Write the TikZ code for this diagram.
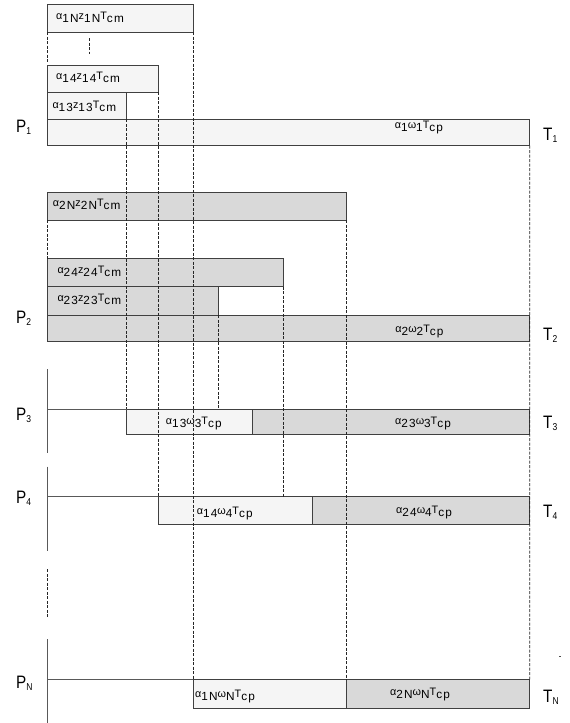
\documentclass[tikz,border=0pt]{standalone}
\usepackage{fontspec}
\setmainfont{Liberation Sans}
\newfontfamily\lf[LetterSpace=10]{Liberation Sans}
\usetikzlibrary{calc}
\newcommand\hb[1]{{\lf\fontsize{10.8}{10.8}\selectfont #1}}
\newcommand\lb[1]{\raisebox{-3.4pt}{\lf\fontsize{11.8}{11.8}\selectfont #1}}
\newcommand\lab[6]{\hb{#1}\lb{#2}\hb{#3}\lb{#4}\hb{#5}\lb{#6}}
\newcommand\biglab[2]{\scalebox{0.85}[1]{\fontsize{18}{18}\selectfont #1}\raisebox{-2pt}{\scalebox{0.85}[1]{\fontsize{10}{10}\selectfont #2}}}
\begin{document}
\begin{tikzpicture}[x=1pt,y=-1pt,
  bx/.style={draw=black!75, line width=0.8pt, inner sep=0pt, outer sep=0pt, anchor=north west},
  lite/.style={bx, fill=black!4},
  dark/.style={bx, fill=black!15},
  dl/.style={dash pattern=on 3pt off 1.5pt, line width=0.6pt, draw=black!85},
  ax/.style={line width=0.8pt, draw=black!65},
  txt/.style={inner sep=0pt, anchor=base west},
  txc/.style={inner sep=0pt, anchor=base},
  big/.style={inner sep=0pt, anchor=base west}]
\useasboundingbox (0,0) rectangle (570,723);
\fill[white] (0,0) rectangle (570,723);
% P1 group
\node[lite, minimum width=145.6pt, minimum height=27.7pt] (A1N) at (47.7,4.3) {};
\node[lite, minimum width=110.6pt, minimum height=27pt] (A14) at (47.7,65) {};
\node[lite, minimum width=79pt, minimum height=27.3pt] (A13) at (47.7,92) {};
\node[lite, minimum width=482pt, minimum height=26.4pt] (B1) at (47.7,119.3) {};
% P2 group
\node[dark, minimum width=298.3pt, minimum height=28pt] (A2N) at (47.7,192) {};
\node[dark, minimum width=236pt, minimum height=28pt] (A24) at (47.7,258.7) {};
\node[dark, minimum width=170.6pt, minimum height=28.6pt] (A23) at (47.7,286.7) {};
\node[dark, minimum width=482pt, minimum height=26.4pt] (B2) at (47.7,315.3) {};
% P3
\node[lite, minimum width=126pt, minimum height=25.7pt] (C13) at (126.7,409) {};
\node[dark, minimum width=277pt, minimum height=25.7pt] (C23) at (252.7,409) {};
% P4
\node[lite, minimum width=154.4pt, minimum height=27.3pt] (C14) at (158.3,496.7) {};
\node[dark, minimum width=217pt, minimum height=27.3pt] (C24) at (312.7,496.7) {};
% PN
\node[lite, minimum width=152.7pt, minimum height=29pt] (C1N) at (193.3,679.3) {};
\node[dark, minimum width=183.7pt, minimum height=29pt] (C2N) at (346,679.3) {};
% axes
\coordinate (a3t) at (47.7,369.3); \coordinate (a3b) at (47.7,453.3); \coordinate (a3m) at (47.7,409);
\coordinate (a4t) at (47.7,466.7); \coordinate (a4b) at (47.7,550.7); \coordinate (a4m) at (47.7,496.7);
\coordinate (aNt) at (47.7,639); \coordinate (aNb) at (47.7,723); \coordinate (aNm) at (47.7,679.3);
\draw[ax] (a3t) -- (a3b); \draw[ax] (a3m) -- (C13.north west);
\draw[ax] (a4t) -- (a4b); \draw[ax] (a4m) -- (C14.north west);
\draw[ax] (aNt) -- (aNb); \draw[ax] (aNm) -- (C1N.north west);
% labels in boxes
\node[txt] (tA1N) at (56,19.5) {\lab{α}{1N}{z}{1N}{T}{cm}};
\node[txt] (tA14) at (56,79.5) {\lab{α}{14}{z}{14}{T}{cm}};
\node[txt] (tA13) at (52.3,108.5) {\lab{α}{13}{z}{13}{T}{cm}};
\node[txc] (tB1) at (419,128.5) {\lab{α}{1}{ω}{1}{T}{cp}};
\node[txt] (tA2N) at (52.7,206) {\lab{α}{2N}{z}{2N}{T}{cm}};
\node[txt] (tA24) at (57.3,273) {\lab{α}{24}{z}{24}{T}{cm}};
\node[txt] (tA23) at (57.3,301.5) {\lab{α}{23}{z}{23}{T}{cm}};
\node[txc] (tB2) at (419.5,332) {\lab{α}{2}{ω}{2}{T}{cp}};
\node[txt] (tC13) at (165.7,424.5) {\lab{α}{13}{ω}{3}{T}{cp}};
\node[txt] (tC23) at (395,424.5) {\lab{α}{23}{ω}{3}{T}{cp}};
\node[txt] (tC14) at (196.7,514.5) {\lab{α}{14}{ω}{4}{T}{cp}};
\node[txt] (tC24) at (396,513) {\lab{α}{24}{ω}{4}{T}{cp}};
\node[txt] (tC1N) at (195,697) {\lab{α}{1N}{ω}{N}{T}{cp}};
\node[txt] (tC2N) at (390,695) {\lab{α}{2N}{ω}{N}{T}{cp}};
% P and T labels
\node[big] (P1) at (16,132.7) {\biglab{P}{1}};
\node[big] (P2) at (16,323.3) {\biglab{P}{2}};
\node[big] (P3) at (16,420.5) {\biglab{P}{3}};
\node[big] (P4) at (16,503) {\biglab{P}{4}};
\node[big] (PN) at (16,688.5) {\biglab{P}{N}};
\node[big] (T1) at (543,140) {\biglab{T}{1}};
\node[big] (T2) at (543,340) {\biglab{T}{2}};
\node[big] (T3) at (543,428) {\biglab{T}{3}};
\node[big] (T4) at (543,517) {\biglab{T}{4}};
\node[big] (TN) at (543,702) {\biglab{T}{N}};
% dashed guide lines
\coordinate (e1) at (47.7,63);
\draw[dl] (A1N.south west) -- (e1);
\coordinate (v1) at (89.3,38); \coordinate (v2) at (89.3,54);
\draw[dl] (v1) -- (v2);
\draw[dl] (A2N.south west) -- (A24.north west);
\draw[dl] (A13.south east) -- (C13.north west);
\draw[dl] (A14.south east) -- (C14.north west);
\draw[dl] (A1N.south east) -- (C1N.north west);
\draw[dl] (A23.south east) -- (A23.south east |- C13.north);
\draw[dl] (A24.south east) -- (A24.south east |- C14.north);
\draw[dl] (A2N.south east) -- (C1N.north east);
\draw[dl] (B1.south east) -- (C2N.north east);
\coordinate (d1) at (47.7,569.3); \coordinate (d2) at (47.7,616.7);
\draw[dl] (d1) -- (d2);
% tiny stray mark
\coordinate (m1) at (559.3,656.7); \coordinate (m2) at (560.7,656.7);
\draw[line width=0.6pt, black!70] (m1) -- (m2);
\end{tikzpicture}
\end{document}
